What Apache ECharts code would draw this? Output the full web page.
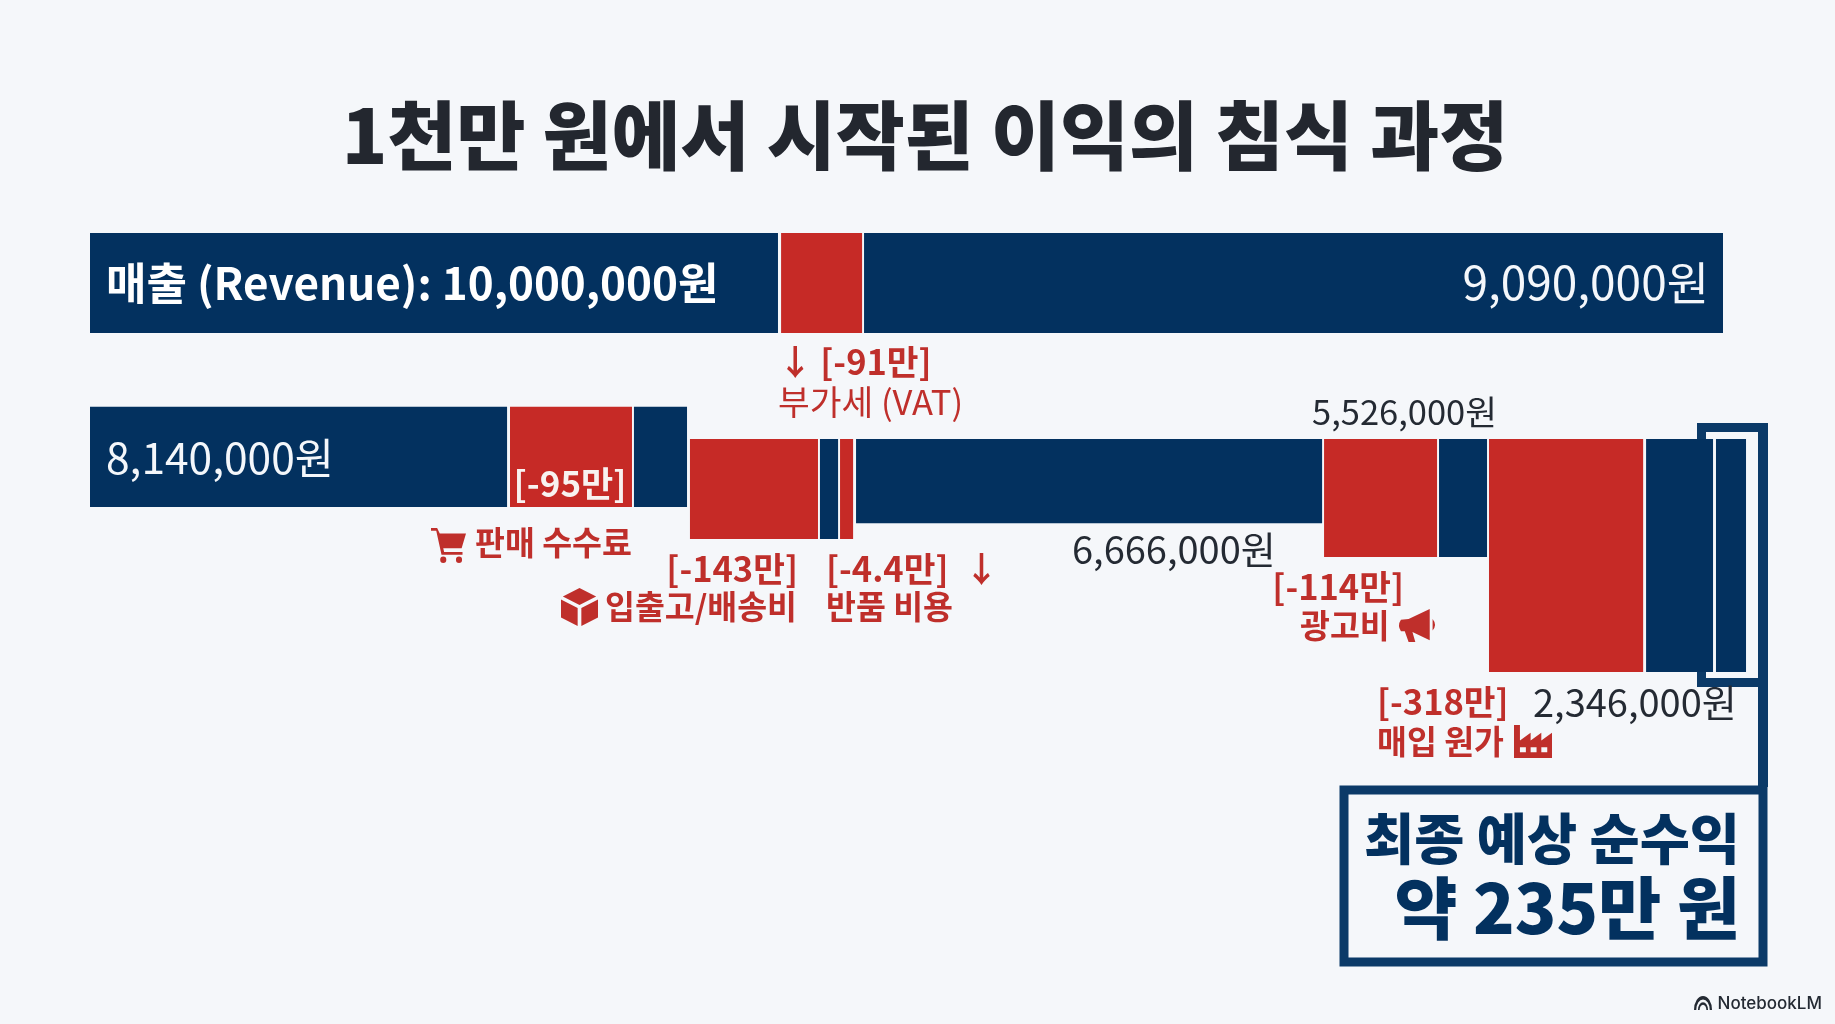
<!DOCTYPE html>
<html><head><meta charset="utf-8">
<script src="https://cdn.jsdelivr.net/npm/echarts@6/dist/echarts.min.js"></script>
<style>html,body{margin:0;padding:0;background:#f5f7fa}#c{width:1835px;height:1024px}</style>
</head><body><div id="c"></div>
<script>
// Waterfall segments (x in won on the 10,000,000 scale, depth in % of chart height)
const segmentKinds  = ['net','cost','net', 'net','cost','net', 'cost','net','cost','net', 'cost','net','cost','net','net'];
const segmentFrom   = [0,4232000,4740000, 0,2572000,3331000, 3674000,4470000,4593000,4691000, 7557000,8261000,8567000,9529000,9957000];
const segmentTo     = [4213000,4728000,10000000, 2554000,3319000,3656000, 4458000,4581000,4673000,7545000, 8249000,8555000,9511000,9939000,10141000];
const segmentTop    = [0,0,0, 39.6,39.6,39.6, 46.9,46.9,46.9,46.9, 46.9,46.9,46.9,46.9,46.9];
const segmentBottom = [22.8,22.8,22.8, 62.4,62.4,62.4, 69.7,69.7,69.7,66.1, 73.8,73.8,100,100,100];

const titleText = '1천만 원에서 시작된 이익의 침식 과정';
const whiteLabels = ['매출 (Revenue): 10,000,000원','9,090,000원','8,140,000원','[-95만]'];
const amountLabels = ['6,666,000원','5,526,000원','2,346,000원'];
const costLabels = ['↓ [-91만]','부가세 (VAT)','판매 수수료','[-143만]','입출고/배송비','[-4.4만]  ↓','반품 비용','[-114만]','광고비','[-318만]','매입 원가'];
const resultLabels = ['최종 예상 순수익','약 235만 원'];
const brandLabel = 'NotebookLM';

const NAVY='#03315f', RED='#c62a26', INK='#242a33', CRED='#bf2f2b', BG='#f5f7fa', FRAME='#0b3a68';
const KR='"Noto Sans CJK KR"';
const fnt=(w,s)=>`${w} ${s}px ${KR}`;
function txt(text,x,y,fill,font,align){
  return {type:'text',z:20,style:{text,x,y,fill,font,textAlign:align||'left',textVerticalAlign:'middle'}};
}
const cart='M0 2H7L10 8H40L35 24H14L15 28H36V31H12L6 5H0Z M14 33A3.500 3.500 0 1 0 14.010 33Z M32 33A3.500 3.500 0 1 0 32.010 33Z';
const box='M20 0L38 9L20 18L2 9Z M0 12L18 21V40L0 31Z M40 12V31L22 40V21Z';
const horn='M12 12L34 0V38L16 28L19 40H12L8 27H4Q0 20 4 13Z M37 12Q42 19 37 26Z';
const factory='M0 36V2H5V18L14 10V18L23 10V18L32 10V36Z M5 25V30H10V25Z M14 25V30H19V25Z M23 25V30H28V25Z';
const brand='M1 14A8 8 0 0 1 17 14H15A6 6 0 0 0 3 14Z M4.500 14A4.500 4.500 0 0 1 13.500 14H12A3 3 0 0 0 6 14Z';
const iconPlacements=[
  [cart,431,528,35,35,CRED],[box,561,588,37,38,CRED],[horn,1399,609,36,33,CRED],
  [factory,1514,725,38,33,CRED],[brand,1694,996,18,14,INK]
];

const g=[
  // bracket round the final profit, its connector and the result box
  {type:'rect',z:1,shape:{x:1697,y:423,width:71,height:264},style:{fill:FRAME}},
  {type:'rect',z:1,shape:{x:1706,y:432,width:52,height:246},style:{fill:BG}},
  {type:'rect',z:1,shape:{x:1758,y:687,width:10,height:100},style:{fill:FRAME}},
  {type:'rect',z:1,shape:{x:1344,y:790,width:419,height:172},style:{fill:BG,stroke:FRAME,lineWidth:9}},

  txt(whiteLabels[0],106,283,'#fff',fnt(700,44)),
  txt(whiteLabels[1],1709,283,'#f4f7fb',fnt(400,46),'right'),
  txt(whiteLabels[2],106,458,'#f4f7fb',fnt(400,42.5)),
  txt(whiteLabels[3],570,484,'#f8f2f0',fnt(700,35),'center'),

  txt(costLabels[0],778,362,CRED,fnt(700,34.5)),
  txt(costLabels[1],778,402,CRED,fnt(400,34.5)),
  txt(costLabels[2],475,543,CRED,fnt(700,32.5)),
  txt(costLabels[3],798,569,CRED,fnt(700,34.5),'right'),
  txt(costLabels[4],797,607,CRED,fnt(700,32.5),'right'),
  txt(costLabels[5],826,569,CRED,fnt(700,34.5)),
  txt(costLabels[6],826,607,CRED,fnt(700,32.5)),
  txt(costLabels[7],1404,587,CRED,fnt(700,34.5),'right'),
  txt(costLabels[8],1300,626,CRED,fnt(700,32.5)),
  txt(costLabels[9],1377,702,CRED,fnt(700,34.5)),
  txt(costLabels[10],1377,742,CRED,fnt(700,32.5)),

  txt(amountLabels[0],1072,550,INK,fnt(400,38)),
  txt(amountLabels[1],1312,412,INK,fnt(400,34.5)),
  txt(amountLabels[2],1533,703,INK,fnt(400,38)),

  txt(resultLabels[0],1740,838,NAVY,fnt(900,54.5),'right'),
  txt(resultLabels[1],1740,908,NAVY,fnt(900,68.5),'right'),

  {type:'text',z:20,style:{text:brandLabel,x:1822,y:1004,fill:INK,font:'500 17px Inter',textAlign:'right',textVerticalAlign:'middle'}}
];

const chart=echarts.init(document.getElementById('c'),null,{renderer:'canvas'});
chart.setOption({
  animation:false,
  backgroundColor:BG,
  title:{text:titleText,left:920,top:93,textAlign:'center',itemGap:0,
    textStyle:{fontFamily:KR,fontWeight:900,fontSize:75,color:'#23272f'}},
  grid:{left:90,top:233,width:1714.65,height:439,containLabel:false},
  xAxis:{type:'value',min:0,max:10500000,show:false},
  yAxis:{type:'value',min:0,max:100,inverse:true,show:false},
  tooltip:{show:false},
  series:[{
    type:'custom',z:5,clip:false,silent:true,
    data:segmentKinds.map((k,i)=>[segmentFrom[i],segmentTo[i],segmentTop[i],segmentBottom[i],k]),
    encode:{x:[0,1],y:[2,3]},
    renderItem:(p,api)=>{
      const a=api.coord([api.value(0),api.value(2)]), b=api.coord([api.value(1),api.value(3)]);
      return {type:'rect',shape:{x:a[0],y:a[1],width:b[0]-a[0],height:b[1]-a[1]},
        style:{fill:api.value(4)==='cost'?RED:NAVY}};
    }
  },{
    type:'custom',z:6,clip:false,silent:true,coordinateSystem:'none',
    data:iconPlacements.map((_,i)=>[i]),
    renderItem:(p,api)=>{
      const c=iconPlacements[api.value(0)];
      return {type:'path',shape:{pathData:c[0],layout:'cover',x:c[1],y:c[2],width:c[3],height:c[4]},style:{fill:c[5]}};
    }
  }],
  graphic:{elements:g}
});
</script></body></html>
